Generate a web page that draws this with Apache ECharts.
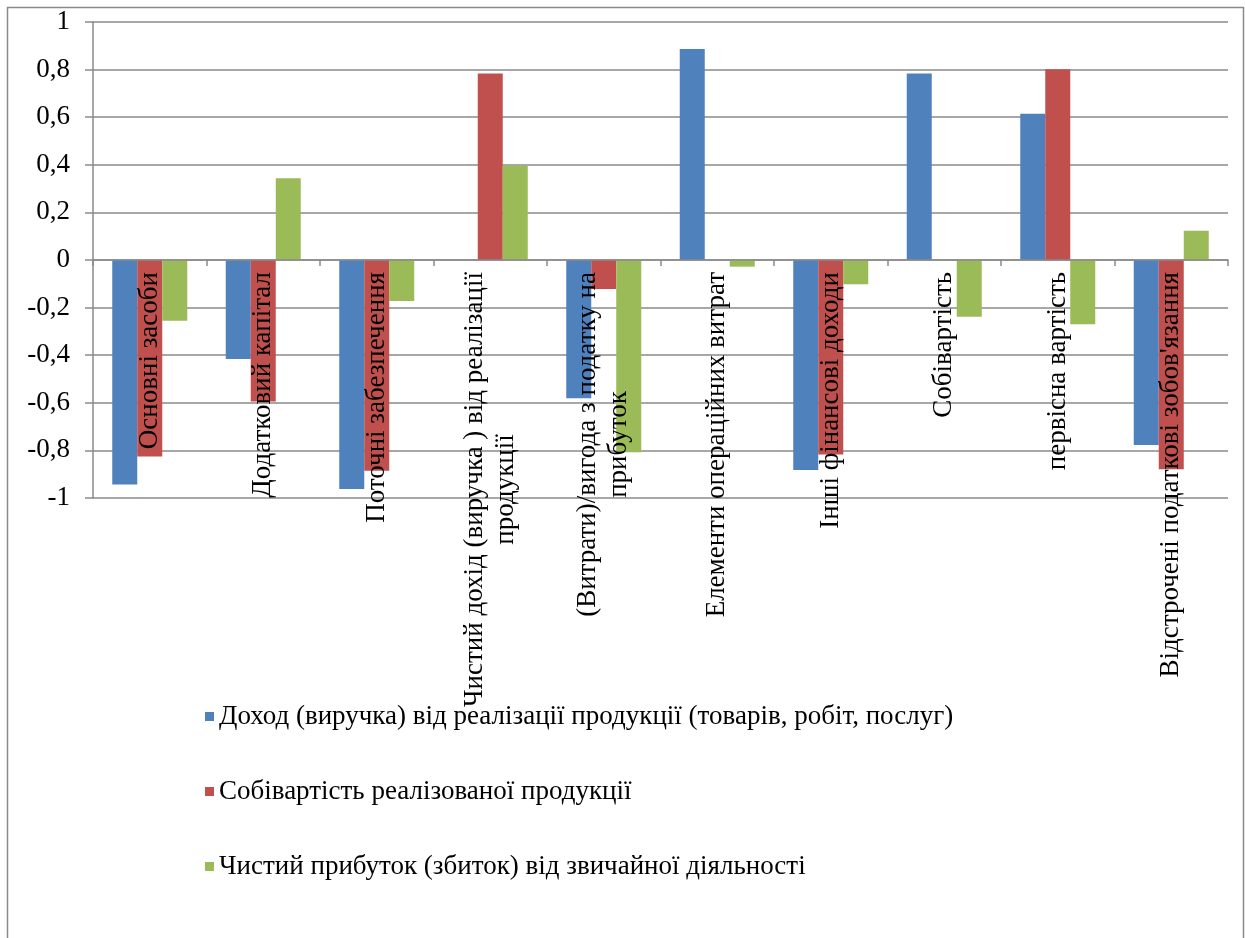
<!DOCTYPE html>
<html>
<head>
<meta charset="utf-8">
<script src="https://cdn.jsdelivr.net/npm/echarts@6/dist/echarts.min.js"></script>
<style>
  html, body { margin: 0; padding: 0; background: #ffffff; }
  #chart { width: 1245px; height: 938px; }
</style>
</head>
<body>
<div id="chart"></div>
<script>
// Category names (line breaks where the long names wrap)
const categories = [
  'Основні засоби',
  'Додатковий капітал',
  'Поточні забезпечення',
  'Чистий дохід (виручка ) від реалізації\nпродукції',
  '(Витрати)/вигода з податку на\nприбуток',
  'Елементи операційних витрат',
  'Інші фінансові доходи',
  'Собівартість',
  'первісна вартість',
  "Відстрочені податкові зобов'язання"
];

const seriesNames = [
  'Доход (виручка) від реалізації продукції (товарів, робіт, послуг)',
  'Собівартість реалізованої продукції',
  'Чистий прибуток (збиток) від звичайної діяльності'
];

const revenue = [-0.943, -0.416, -0.962, 0, -0.581, 0.887, -0.882, 0.784, 0.615, -0.777];
const costOfSales = [-0.826, -0.595, -0.885, 0.784, -0.122, 0, -0.817, 0, 0.801, -0.879];
const netProfit = [-0.255, 0.344, -0.172, 0.396, -0.808, -0.028, -0.102, -0.238, -0.270, 0.123];

const yTicks = { min: -1, max: 1, interval: 0.2 };

const colors = ['#4F81BD', '#C0504D', '#9BBB59'];
const FONT = '"Liberation Serif", "Times New Roman", serif';
const FS = 27;
const LINE_H = 31;

// Plot box
const GRID = { left: 93, right: 17, top: 22, bottom: 440 };
const plotH = 938 - GRID.top - GRID.bottom;
// Category axis sits on the zero line
const zeroOffset = -plotH * (0 - yTicks.min) / (yTicks.max - yTicks.min);

// Multi-line category names: lines are centred on each other inside one block
const measureCtx = document.createElement('canvas').getContext('2d');
measureCtx.font = FS + 'px ' + FONT;
const rich = {};
const labelText = categories.map((name, i) => {
  const lines = name.split('\n');
  if (lines.length === 1) return name;
  const w = Math.ceil(Math.max(...lines.map(l => measureCtx.measureText(l).width)));
  const key = 'c' + i;
  rich[key] = { width: w, align: 'center', fontSize: FS, fontFamily: FONT, color: '#000', lineHeight: LINE_H };
  return lines.map(l => '{' + key + '|' + l + '}').join('\n');
});

const chart = echarts.init(document.getElementById('chart'), null, { renderer: 'canvas' });

chart.setOption({
  backgroundColor: '#ffffff',
  animation: false,
  color: colors,
  graphic: [{
    type: 'rect',
    shape: { x: 7.5, y: 7.5, width: 1236, height: 960 },
    style: { fill: 'none', stroke: '#8a8a8a', lineWidth: 1.5 },
    silent: true,
    z: -10
  }],
  grid: Object.assign({ containLabel: false }, GRID),
  legend: {
    orient: 'vertical',
    left: 200,
    top: 698,
    icon: 'rect',
    itemWidth: 9,
    itemHeight: 9,
    itemGap: 48,
    textStyle: { fontFamily: FONT, fontSize: FS, color: '#000', lineHeight: 27 },
    data: seriesNames
  },
  xAxis: {
    type: 'category',
    data: categories,
    position: 'bottom',
    offset: zeroOffset,
    z: 5,
    axisLine: { onZero: false, lineStyle: { color: '#8a8a8a', width: 1.5 } },
    axisTick: { show: true, length: 6, lineStyle: { color: '#8a8a8a', width: 1.5 } },
    axisLabel: {
      interval: 0,
      rotate: 90,
      margin: 12,
      fontFamily: FONT,
      fontSize: FS,
      color: '#000',
      lineHeight: LINE_H,
      rich: rich,
      formatter: (v, idx) => labelText[idx]
    }
  },
  yAxis: {
    type: 'value',
    min: yTicks.min,
    max: yTicks.max,
    interval: yTicks.interval,
    axisLine: { show: true, lineStyle: { color: '#8a8a8a', width: 1.5 } },
    axisTick: { show: true, length: 8, lineStyle: { color: '#8a8a8a', width: 1.5 } },
    splitLine: { show: true, lineStyle: { color: '#8a8a8a', width: 1.5 } },
    axisLabel: {
      margin: 23,
      fontFamily: FONT,
      fontSize: FS,
      color: '#000',
      formatter: v => {
        const r = Math.round(v * 10) / 10;
        return String(r).replace('.', ',');
      }
    }
  },
  series: [
    { name: seriesNames[0], type: 'bar', data: revenue, barWidth: 25, barGap: '0%' },
    { name: seriesNames[1], type: 'bar', data: costOfSales, barWidth: 25, barGap: '0%' },
    { name: seriesNames[2], type: 'bar', data: netProfit, barWidth: 25, barGap: '0%' }
  ]
});
</script>
</body>
</html>
